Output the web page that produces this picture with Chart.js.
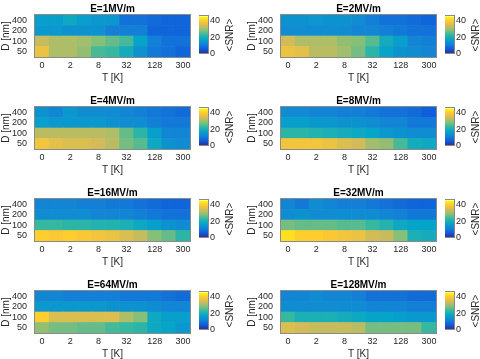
<!DOCTYPE html>
<html>
<head>
<meta charset="utf-8">
<script src="https://cdn.jsdelivr.net/npm/chart.js@4.4.0/dist/chart.umd.min.js"></script>
<style>
  html, body { margin: 0; padding: 0; background: #fff; }
  #fig { position: relative; width: 480px; height: 359px; overflow: hidden; background: #fff; }
  #fig canvas { position: absolute; }
</style>
</head>
<body>
<div id="fig"></div>
<script>
// temperature columns and thickness rows
const T = ['0', '1', '2', '4', '8', '16', '32', '64', '128', '256', '300'];
const T_TICKS = ['0', '2', '8', '32', '128', '300'];
const D = ['50', '100', '200', '400'];
const E_FIELDS = ['E=1MV/m', 'E=2MV/m', 'E=4MV/m', 'E=8MV/m', 'E=16MV/m', 'E=32MV/m', 'E=64MV/m', 'E=128MV/m'];
const CBAR_TICKS = [0, 20, 40];
const SNR_MIN = 0;
const SNR_MAX = 45;

// <SNR> per panel, one row per D (50, 100, 200, 400), one value per T
const SNR_E1 = [
  [37, 31, 31, 29, 24, 23, 19, 14, 10, 9, 7],
  [33, 31, 31, 30, 28, 26, 24, 17, 11, 9, 9],
  [15, 15, 14, 14, 14, 11, 11, 11, 7, 7, 7],
  [16, 16, 18, 16, 15, 15, 9, 9, 8, 7, 7]
];
const SNR_E2 = [
  [37, 36, 32, 32, 30, 27, 22, 17, 14, 13, 12],
  [34, 31, 31, 31, 29, 28, 25, 19, 16, 12, 11],
  [13, 13, 13, 13, 13, 12, 12, 11, 10, 9, 9],
  [14, 14, 15, 14, 14, 13, 11, 9, 9, 8, 7]
];
const SNR_E4 = [
  [38, 36, 35, 35, 34, 32, 27, 25, 18, 14, 13],
  [32, 32, 32, 32, 32, 31, 26, 22, 16, 12, 12],
  [16, 15, 15, 15, 15, 14, 13, 13, 11, 10, 10],
  [14, 12, 15, 13, 13, 13, 12, 11, 10, 9, 8]
];
const SNR_E8 = [
  [38, 38, 38, 37, 35, 34, 30, 29, 24, 19, 18],
  [22, 22, 21, 20, 19, 18, 17, 15, 14, 13, 13],
  [16, 16, 15, 15, 14, 14, 13, 12, 12, 10, 10],
  [13, 13, 12, 12, 11, 11, 10, 9, 9, 8, 6]
];
const SNR_E16 = [
  [40, 39, 40, 39, 38, 37, 35, 33, 28, 26, 22],
  [23, 23, 22, 22, 21, 21, 20, 18, 16, 14, 13],
  [13, 13, 13, 13, 12, 12, 12, 11, 10, 9, 9],
  [12, 12, 12, 11, 11, 10, 10, 9, 8, 7, 7]
];
const SNR_E32 = [
  [42, 40, 40, 39, 38, 37, 34, 33, 28, 20, 19],
  [27, 26, 26, 26, 25, 25, 23, 21, 18, 17, 17],
  [13, 14, 13, 13, 13, 13, 13, 12, 11, 10, 10],
  [12, 10, 13, 12, 11, 11, 10, 9, 8, 7, 7]
];
const SNR_E64 = [
  [29, 27, 27, 26, 26, 24, 23, 22, 18, 17, 15],
  [40, 35, 35, 35, 35, 35, 31, 28, 18, 16, 16],
  [15, 15, 15, 15, 15, 14, 14, 14, 13, 12, 12],
  [12, 12, 11, 11, 11, 11, 10, 10, 10, 9, 8]
];
const SNR_E128 = [
  [35, 34, 33, 33, 33, 32, 27, 27, 27, 27, 23],
  [23, 20, 20, 20, 19, 18, 17, 17, 16, 15, 15],
  [13, 13, 13, 13, 13, 13, 12, 12, 12, 11, 11],
  [12, 12, 13, 12, 12, 11, 9, 9, 9, 8, 8]
];
const PANELS = [SNR_E1, SNR_E2, SNR_E4, SNR_E8, SNR_E16, SNR_E32, SNR_E64, SNR_E128];

// parula-like colormap
const PARULA = ['#352a87', '#0f5cdd', '#1481d6', '#06a4ca', '#2eb7a4', '#87bf77', '#d1bb59', '#fec832', '#f9fb0e']
  .map(h => [1, 3, 5].map(i => parseInt(h.substr(i, 2), 16)));

function parula(t) {
  t = Math.max(0, Math.min(1, t)) * (PARULA.length - 1);
  const i = Math.min(Math.floor(t), PARULA.length - 2);
  const f = t - i;
  const c = PARULA[i].map((v, k) => Math.round(v + (PARULA[i + 1][k] - v) * f));
  return `rgb(${c[0]},${c[1]},${c[2]})`;
}
const snrColor = v => parula((v - SNR_MIN) / (SNR_MAX - SNR_MIN));

Chart.defaults.font.family = '"Liberation Sans", Arial, Helvetica, sans-serif';
Chart.defaults.color = '#262626';
Chart.defaults.animation = false;

// gray box round the plot area
const frame = {
  id: 'frame',
  afterDatasetsDraw(chart) {
    const a = chart.chartArea, ctx = chart.ctx;
    ctx.save();
    ctx.strokeStyle = '#8a8a8a';
    ctx.lineWidth = 1;
    ctx.strokeRect(Math.round(a.left) - 0.5, Math.round(a.top) - 0.5,
      Math.round(a.right - a.left) + 1, Math.round(a.bottom - a.top) + 1);
    ctx.restore();
  }
};

// colorbar label, rotated like a y label
const cbarLabel = {
  id: 'cbarLabel',
  afterDraw(chart) {
    const a = chart.chartArea, ctx = chart.ctx;
    ctx.save();
    ctx.translate(a.right + 22, (a.top + a.bottom) / 2);
    ctx.rotate(-Math.PI / 2);
    ctx.font = '10px "Liberation Sans", Arial, sans-serif';
    ctx.fillStyle = '#262626';
    ctx.textAlign = 'center';
    ctx.textBaseline = 'middle';
    ctx.fillText('<SNR>', 0, 0);
    ctx.restore();
  }
};

const fig = document.getElementById('fig');

function addCanvas(left, top, w, h) {
  const c = document.createElement('canvas');
  c.width = w; c.height = h;
  c.style.left = left + 'px'; c.style.top = top + 'px';
  c.style.width = w + 'px'; c.style.height = h + 'px';
  fig.appendChild(c);
  return c;
}

PANELS.forEach((snr, idx) => {
  const col = idx % 2, row = Math.floor(idx / 2);
  const left = col ? 246 : 0;
  const top = row * 92;

  // heat map: one floating bar per cell
  new Chart(addCanvas(left, top, 225, 92), {
    type: 'bar',
    data: {
      labels: T,
      datasets: D.map((d, j) => ({
        label: d,
        data: T.map(() => [j, j + 1]),
        backgroundColor: snr[j].map(snrColor),
        borderWidth: 0,
        barPercentage: 1,
        categoryPercentage: 1,
        grouped: false
      }))
    },
    options: {
      responsive: false,
      devicePixelRatio: 1,
      plugins: {
        legend: { display: false },
        tooltip: { enabled: false },
        title: {
          display: true,
          text: E_FIELDS[idx],
          color: '#000',
          font: { size: 10, weight: 'bold' },
          padding: { top: 3, bottom: 0 }
        }
      },
      scales: {
        x: {
          grid: { display: false, drawTicks: false },
          border: { display: false },
          ticks: {
            autoSkip: false, maxRotation: 0, minRotation: 0, padding: 3,
            font: { size: 9 },
            callback(v) {
              const l = this.getLabelForValue(v);
              return T_TICKS.includes(l) ? l : '';
            }
          },
          title: { display: true, text: 'T [K]', font: { size: 10 }, padding: { top: 0, bottom: 8 } },
          afterFit(s) { s.height = 35; }
        },
        y: {
          min: 0, max: D.length,
          grid: { display: false, drawTicks: false },
          border: { display: false },
          ticks: { padding: 8, font: { size: 9 }, callback: (v, i) => D[i] },
          afterBuildTicks(s) { s.ticks = D.map((d, i) => ({ value: i + 0.5 })); },
          title: { display: true, text: 'D [nm]', font: { size: 10 }, padding: { top: 0, bottom: 0 } },
          afterFit(s) { s.width = 35; }
        },
        // empty right-hand scale so the title centres over the plot
        yRight: {
          position: 'right',
          grid: { display: false, drawTicks: false },
          border: { display: false },
          ticks: { display: false },
          afterFit(s) { s.width = 35; }
        }
      }
    },
    plugins: [frame]
  });

  // colorbar
  new Chart(addCanvas(left + 35 + 164, top + 9, 40, 52), {
    type: 'bar',
    data: {
      labels: ['<SNR>'],
      datasets: [{
        data: [[SNR_MIN, SNR_MAX]],
        barPercentage: 1,
        categoryPercentage: 1,
        borderWidth: 0,
        backgroundColor(ctx) {
          const chart = ctx.chart, a = chart.chartArea;
          if (!a) return null;
          const ys = chart.scales.y;
          const g = chart.ctx.createLinearGradient(0, ys.getPixelForValue(SNR_MIN), 0, ys.getPixelForValue(SNR_MAX));
          PARULA.forEach((c, k) => g.addColorStop(k / (PARULA.length - 1), `rgb(${c[0]},${c[1]},${c[2]})`));
          return g;
        }
      }]
    },
    options: {
      responsive: false,
      devicePixelRatio: 1,
      layout: { padding: { top: 6, bottom: 6, left: 0, right: 0 } },
      plugins: { legend: { display: false }, tooltip: { enabled: false } },
      scales: {
        x: { display: false },
        y: {
          position: 'right',
          min: SNR_MIN, max: SNR_MAX,
          grid: { display: false, drawTicks: false },
          border: { display: false },
          ticks: { padding: 2, font: { size: 9 } },
          afterBuildTicks(s) { s.ticks = CBAR_TICKS.map(v => ({ value: v })); },
          afterFit(s) { s.width = 31; }
        }
      }
    },
    plugins: [frame, cbarLabel]
  });
});
</script>
</body>
</html>
